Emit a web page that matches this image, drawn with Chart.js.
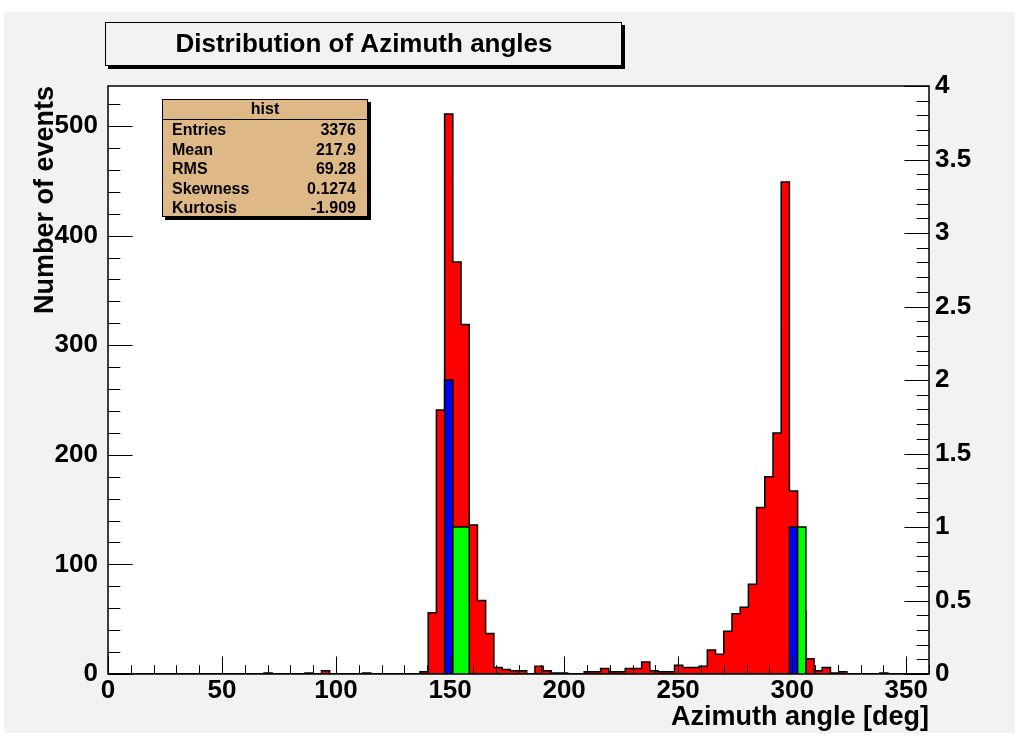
<!DOCTYPE html>
<html>
<head>
<meta charset="utf-8">
<title>Distribution of Azimuth angles</title>
<script src="https://cdn.jsdelivr.net/npm/chart.js@4.4.1/dist/chart.umd.min.js"></script>
<style>
  html, body { margin: 0; padding: 0; background: #fff; }
  canvas { display: block; }
</style>
</head>
<body>
<canvas id="hist" width="1015" height="740"></canvas>
<script>
// histogram binning: 100 bins over [0, 360) deg
const xLow = 0;
const xHigh = 360;
const nBins = 100;

// main histogram (left axis), one value per bin
const counts = [
  0, 0, 0, 0, 0, 0, 0, 0, 0, 0,
  0, 0, 0, 0, 0, 0, 0, 0, 0, 1,
  0, 0, 0, 0, 1, 0, 3, 0, 0, 0,
  0, 1, 0, 0, 0, 0, 0, 0, 2, 56,
  241, 511, 376, 319, 136, 67, 37, 6, 4, 3,
  3, 0, 7, 3, 1, 1, 0, 0, 2, 2,
  5, 2, 2, 5, 5, 11, 3, 2, 2, 8,
  6, 6, 7, 22, 18, 39, 55, 61, 82, 152,
  180, 220, 449, 167, 57, 14, 3, 6, 1, 2,
  0, 0, 0, 0, 1, 0, 0, 0, 0, 0
];

// overlay histograms (right axis): non-empty bins only
const blueBins = { 41: 2, 83: 1 };
const greenBins = { 42: 1, 43: 1, 84: 1 };

const statsTitle = 'hist';
const statsNames = ['Entries', 'Mean', 'RMS', 'Skewness', 'Kurtosis'];
const statsValues = ['3376', '217.9', '69.28', '0.1274', '-1.909'];

const titleText = 'Distribution of Azimuth angles';
const xTitle = 'Azimuth angle [deg]';
const yTitle = 'Number of events';

const FONT = '"Liberation Sans", Arial, Helvetica, sans-serif';
const binW = (xHigh - xLow) / nBins;

// step points: one per bin left edge plus closing edge
function stepPoints(vals) {
  const pts = vals.map((v, i) => ({ x: xLow + i * binW, y: v }));
  pts.push({ x: xHigh, y: vals[vals.length - 1] });
  return pts;
}
function fromSparse(obj) {
  const arr = new Array(nBins).fill(0);
  Object.keys(obj).forEach(k => { arr[+k] = obj[k]; });
  return arr;
}

const yMax = Math.max(...counts) * 1.05;

const rootStyle = {
  id: 'rootStyle',
  beforeDraw(chart) {
    const { ctx, chartArea: a } = chart;
    ctx.save();
    ctx.fillStyle = '#ffffff';
    ctx.fillRect(0, 0, chart.width, chart.height);
    ctx.fillStyle = '#f2f2f2';
    ctx.fillRect(4, 12, chart.width - 4, 721);

    // title box with shadow
    ctx.fillStyle = '#000';
    ctx.fillRect(108, 25, 517, 44);
    ctx.fillStyle = '#f2f2f2';
    ctx.fillRect(105, 22, 517, 44);
    ctx.strokeStyle = '#000';
    ctx.lineWidth = 1;
    ctx.strokeRect(105.5, 22.5, 516, 43);
    ctx.fillStyle = '#000';
    ctx.font = 'bold 26px ' + FONT;
    ctx.textAlign = 'center';
    ctx.textBaseline = 'middle';
    ctx.fillText(titleText, 364, 45);

    // plot frame background
    ctx.fillStyle = '#ffffff';
    ctx.fillRect(a.left, a.top, a.right - a.left, a.bottom - a.top);
    ctx.restore();
  },
  afterDatasetsDraw(chart) {
    const { ctx, chartArea: a, scales } = chart;
    const { x, y, y2 } = scales;
    ctx.save();
    ctx.strokeStyle = '#000';
    ctx.lineWidth = 1;
    ctx.beginPath();
    // x ticks, inside, bottom only
    for (let v = xLow; v <= xHigh; v += 10) {
      const px = Math.round(x.getPixelForValue(v)) + 0.5;
      const len = v % 50 === 0 ? 17.6 : 8.8;
      ctx.moveTo(px, a.bottom);
      ctx.lineTo(px, a.bottom - len);
    }
    // left axis ticks
    for (let v = 0; v <= yMax; v += 20) {
      const py = Math.round(y.getPixelForValue(v)) + 0.5;
      const len = v % 100 === 0 ? 24.6 : 12.3;
      ctx.moveTo(a.left, py);
      ctx.lineTo(a.left + len, py);
    }
    // right axis ticks
    for (let i = 0; i <= 40; i++) {
      const py = Math.round(y2.getPixelForValue(i / 10)) + 0.5;
      const len = i % 5 === 0 ? 24.6 : 12.3;
      ctx.moveTo(a.right, py);
      ctx.lineTo(a.right - len, py);
    }
    ctx.stroke();
    ctx.lineWidth = 1.5;
    ctx.strokeRect(a.left, a.top, a.right - a.left, a.bottom - a.top);
    ctx.restore();
  },
  afterDraw(chart) {
    const { ctx } = chart;
    const bx = 162, by = 99, bw = 206, bh = 118, head = 20, rowH = 19.5;
    ctx.save();
    ctx.fillStyle = '#000';
    ctx.fillRect(bx + 3, by + 3, bw, bh);
    ctx.fillStyle = '#deb887';
    ctx.fillRect(bx, by, bw, bh);
    ctx.strokeStyle = '#000';
    ctx.lineWidth = 1;
    ctx.strokeRect(bx + 0.5, by + 0.5, bw - 1, bh - 1);
    ctx.beginPath();
    ctx.moveTo(bx, by + head + 0.5);
    ctx.lineTo(bx + bw, by + head + 0.5);
    ctx.stroke();
    ctx.fillStyle = '#000';
    ctx.font = 'bold 16px ' + FONT;
    ctx.textBaseline = 'middle';
    ctx.textAlign = 'center';
    ctx.fillText(statsTitle, bx + bw / 2, by + 11);
    statsNames.forEach((name, i) => {
      const ty = by + 32 + i * rowH;
      ctx.textAlign = 'left';
      ctx.fillText(name, bx + 10, ty);
      ctx.textAlign = 'right';
      ctx.fillText(statsValues[i], bx + bw - 12, ty);
    });
    ctx.restore();
  }
};

Chart.defaults.font.family = FONT;
Chart.defaults.font.weight = 'bold';
Chart.defaults.color = '#000';

// 'before' = horizontal run at the previous bin height, then the vertical step
const histStyle = {
  stepped: 'before',
  fill: 'origin',
  borderColor: '#000000',
  borderWidth: 1.5,
  pointRadius: 0
};

new Chart(document.getElementById('hist'), {
  type: 'line',
  data: {
    datasets: [
      { ...histStyle, label: 'hist', data: stepPoints(counts), yAxisID: 'y', backgroundColor: '#ff0000', order: 3 },
      { ...histStyle, label: 'blue', data: stepPoints(fromSparse(blueBins)), yAxisID: 'y2', backgroundColor: '#0000ff', order: 2 },
      { ...histStyle, label: 'green', data: stepPoints(fromSparse(greenBins)), yAxisID: 'y2', backgroundColor: '#00ff00', order: 1 }
    ]
  },
  options: {
    responsive: false,
    animation: false,
    events: [],
    layout: { padding: { top: 86, left: 0, right: 0, bottom: 0 } },
    plugins: { legend: { display: false }, tooltip: { enabled: false }, title: { display: false } },
    scales: {
      x: {
        type: 'linear',
        min: xLow,
        max: xHigh,
        grid: { display: false, drawTicks: false },
        border: { display: false },
        ticks: { stepSize: 50, includeBounds: false, autoSkip: false, maxRotation: 0, padding: 1, font: { size: 26, weight: 'bold' } },
        title: { display: true, text: xTitle, align: 'end', font: { size: 27, weight: 'bold' }, padding: { top: 0, bottom: 6 } },
        afterFit(scale) { scale.height = 66; }
      },
      y: {
        position: 'left',
        min: 0,
        max: yMax,
        grid: { display: false, drawTicks: false },
        border: { display: false },
        ticks: { stepSize: 100, includeBounds: false, padding: 10, font: { size: 26, weight: 'bold' } },
        title: { display: true, text: yTitle, align: 'end', font: { size: 27, weight: 'bold' }, padding: { top: 29, bottom: 0 } },
        afterFit(scale) { scale.width = 108; }
      },
      y2: {
        position: 'right',
        min: 0,
        max: 4,
        grid: { display: false, drawTicks: false },
        border: { display: false },
        ticks: {
          stepSize: 0.5,
          includeBounds: false,
          padding: 6,
          font: { size: 26, weight: 'bold' },
          callback: v => String(Math.round(v * 10) / 10)
        },
        afterFit(scale) { scale.width = 86; }
      }
    }
  },
  plugins: [rootStyle]
});
</script>
</body>
</html>
